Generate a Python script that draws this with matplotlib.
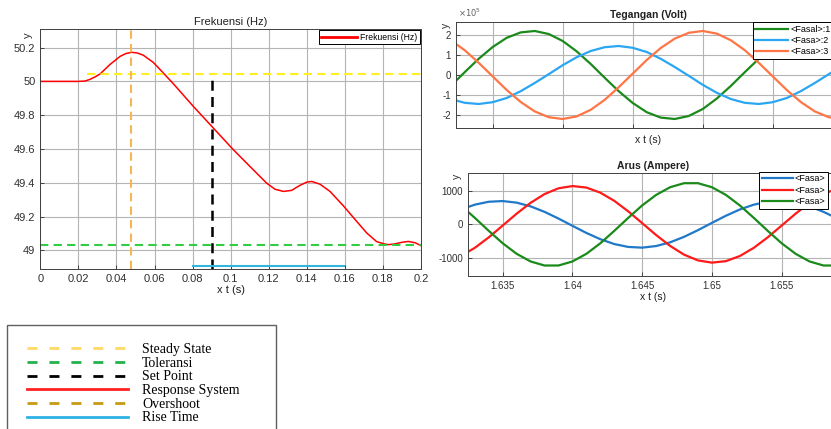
import matplotlib
matplotlib.use("Agg")
import matplotlib.pyplot as plt
from matplotlib.lines import Line2D
from matplotlib.patches import Rectangle
from matplotlib.ticker import FormatStrFormatter

plt.rcParams['font.family'] = ['Liberation Sans', 'DejaVu Sans']
plt.rcParams['axes.unicode_minus'] = False

# ---- data ----
# Frekuensi (Hz)
t_frek = [0, 0.010, 0.020, 0.0235, 0.0261, 0.0290, 0.0314, 0.0366, 0.0419, 0.0450, 0.0480,
          0.0510, 0.0541, 0.0594, 0.0646, 0.0699, 0.0804, 0.0909, 0.1014, 0.1119, 0.1189,
          0.1233, 0.1277, 0.1320, 0.1364, 0.1400, 0.1426, 0.1469, 0.1522, 0.1592, 0.1662,
          0.1715, 0.1767, 0.1802, 0.1827, 0.1860, 0.1900, 0.1933, 0.1970, 0.2]
frek = [50.0, 50.0, 50.0, 50.002, 50.012, 50.028, 50.044, 50.100, 50.148, 50.165, 50.172,
        50.168, 50.155, 50.112, 50.050, 49.986, 49.852, 49.724, 49.596, 49.477, 49.398,
        49.362, 49.349, 49.355, 49.385, 49.404, 49.408, 49.392, 49.349, 49.264, 49.172,
        49.103, 49.052, 49.040, 49.034, 49.038, 49.048, 49.053, 49.045, 49.028]
steady_state = 50.041
steady_start = 0.0243
toleransi = 49.033
overshoot_t = 0.0476
setpoint_t = 0.0904
setpoint_top = 50.03
rise_y = 48.907
rise_t = [0.0795, 0.160]

# Tegangan (Volt), x 1e5
t_v = [0.002, 0.003, 0.004, 0.005, 0.006, 0.007, 0.008, 0.009, 0.010, 0.011, 0.012, 0.013,
       0.014, 0.015, 0.016, 0.017, 0.018, 0.019, 0.020, 0.021, 0.022, 0.023, 0.024, 0.025,
       0.026, 0.027, 0.028, 0.029, 0.030]
v_fasa1 = [-0.55, 0.14, 0.81, 1.40, 1.86, 2.13, 2.20, 2.05, 1.70, 1.18, 0.55, -0.14, -0.81,
           -1.40, -1.86, -2.13, -2.20, -2.05, -1.70, -1.18, -0.55, 0.14, 0.81, 1.40, 1.86,
           2.13, 2.20, 2.05, 1.70]
v_fasa2 = [-1.20, -1.39, -1.45, -1.36, -1.15, -0.81, -0.40, 0.04, 0.49, 0.89, 1.20, 1.39,
           1.45, 1.36, 1.15, 0.81, 0.40, -0.04, -0.49, -0.89, -1.20, -1.39, -1.45, -1.36,
           -1.15, -0.81, -0.40, 0.04, 0.49]
v_fasa3 = [1.74, 1.24, 0.61, -0.07, -0.75, -1.35, -1.82, -2.11, -2.20, -2.07, -1.74, -1.24,
           -0.61, 0.07, 0.75, 1.35, 1.82, 2.11, 2.20, 2.07, 1.74, 1.24, 0.61, -0.07, -0.75,
           -1.35, -1.82, -2.11, -2.20]

# Arus (Ampere)
t_i = [1.632, 1.633, 1.634, 1.635, 1.636, 1.637, 1.638, 1.639, 1.640, 1.641, 1.642, 1.643,
       1.644, 1.645, 1.646, 1.647, 1.648, 1.649, 1.650, 1.651, 1.652, 1.653, 1.654, 1.655,
       1.656, 1.657, 1.658, 1.659, 1.660]
i_fasa1 = [446, 591, 678, 699, 651, 540, 375, 174, -44, -258, -446, -591, -678, -699, -651,
           -540, -375, -174, 44, 258, 446, 591, 678, 699, 651, 540, 375, 174, -44]
i_fasa2 = [-951, -705, -390, -36, 321, 646, 909, 1082, 1149, 1104, 951, 705, 390, 36, -321,
           -646, -909, -1082, -1149, -1104, -951, -705, -390, -36, 321, 646, 909, 1082, 1149]
i_fasa3 = [568, 195, -195, -568, -884, -1114, -1235, -1235, -1114, -884, -568, -195, 195,
           568, 884, 1114, 1235, 1235, 1114, 884, 568, 195, -195, -568, -884, -1114, -1235,
           -1235, -1114]

W, H = 831, 429
fig = plt.figure(figsize=(W / 100, H / 100), dpi=100)


def box(l, t, r, b):
    return [l / W, 1 - b / H, (r - l) / W, (b - t) / H]


def style(ax, fs):
    ax.grid(True, color='#b4b4b4', lw=0.8)
    ax.set_axisbelow(True)
    ax.tick_params(direction='in', length=3, labelsize=fs, colors='#303030', width=0.6)
    for s in ax.spines.values():
        s.set_color('#404040')
        s.set_linewidth(0.7)


def frame(leg):
    leg.get_frame().set_edgecolor('black')
    leg.get_frame().set_linewidth(0.7)


# ---- Frekuensi ----
ax1 = fig.add_axes(box(40.3, 29, 421, 269))
ax1.plot(t_frek, frek, color='red', lw=1.1, label='Frekuensi (Hz)')
ax1.hlines(steady_state, steady_start, 0.2, colors='#ffee22', linestyles=(0, (4, 2.5)), lw=1.5)
ax1.hlines(toleransi, 0, 0.2, colors='#33cc44', linestyles=(0, (4, 2.5)), lw=1.5)
ax1.axvline(overshoot_t, color='#f5b656', ls=(0, (4, 2.5)), lw=1.5)
ax1.vlines(setpoint_t, 48.89, setpoint_top, colors='black', linestyles=(0, (4, 2.5)), lw=1.8)
ax1.hlines(rise_y, rise_t[0], rise_t[1], colors='#34b6dc', lw=1.5)
ax1.set_xlim(0, 0.2)
ax1.set_ylim(48.89, 50.31)
ax1.set_xticks([0, 0.02, 0.04, 0.06, 0.08, 0.1, 0.12, 0.14, 0.16, 0.18, 0.2])
ax1.set_yticks([49, 49.2, 49.4, 49.6, 49.8, 50, 50.2])
ax1.xaxis.set_major_formatter(FormatStrFormatter('%g'))
ax1.yaxis.set_major_formatter(FormatStrFormatter('%g'))
style(ax1, 8)
ax1.set_title('Frekuensi (Hz)', fontsize=8, pad=3, color='#202020')
ax1.set_xlabel('x t (s)', fontsize=8, labelpad=1, color='#202020')
ax1.text(-0.032, 0.985, 'y', transform=ax1.transAxes, rotation=90, fontsize=8,
         ha='center', va='top', color='#303030')
leg = ax1.legend(loc='upper right', fontsize=6.2, handlelength=4.2, handletextpad=0.3,
                 borderaxespad=0.15, borderpad=0.3, fancybox=False, framealpha=1)
frame(leg)
leg.get_lines()[0].set_linewidth(2)

# ---- Tegangan ----
ax2 = fig.add_axes(box(456, 22, 840, 128))
ax2.plot(t_v, v_fasa1, color='#1b8a1b', lw=1.6, label='<Fasal>:1')
ax2.plot(t_v, v_fasa2, color='#2ba6f2', lw=1.6, label='<Fasa>:2')
ax2.plot(t_v, v_fasa3, color='#ff7545', lw=1.6, label='<Fasa>:3')
ax2.set_xlim(0.00238, 0.0298)
ax2.set_ylim(-2.65, 2.65)
ax2.set_xticks([0.005, 0.010, 0.015, 0.020, 0.025])
ax2.set_xticklabels([])
ax2.set_yticks([-2, -1, 0, 1, 2])
style(ax2, 7)
ax2.set_title('Tegangan (Volt)', fontsize=7.5, fontweight='bold', pad=3, color='#202020')
ax2.set_xlabel('x t (s)', fontsize=7.5, labelpad=1.5, color='#202020')
ax2.text(0.004, 1.03, r'$\times10^5$', transform=ax2.transAxes, fontsize=6,
         ha='left', va='bottom', color='#606060')
ax2.text(-0.025, 0.99, 'y', transform=ax2.transAxes, rotation=90, fontsize=7.5,
         ha='center', va='top', color='#303030')
leg2 = ax2.legend(loc='upper left', bbox_to_anchor=(752.7 / W, 1 - 22 / H),
                  bbox_transform=fig.transFigure, fontsize=6.5, handlelength=3.6,
                  handletextpad=0.25, labelspacing=0.25, borderpad=0.3, borderaxespad=0,
                  fancybox=False, framealpha=1)
frame(leg2)

# ---- Arus ----
ax3 = fig.add_axes(box(467.7, 172.7, 839, 276))
ax3.plot(t_i, i_fasa1, color='#1f78c8', lw=1.6, label='<Fasa>')
ax3.plot(t_i, i_fasa2, color='#ff1a1a', lw=1.6, label='<Fasa>')
ax3.plot(t_i, i_fasa3, color='#1a8a1a', lw=1.6, label='<Fasa>')
ax3.set_xlim(1.63249, 1.65911)
ax3.set_ylim(-1550, 1550)
ax3.set_xticks([1.635, 1.64, 1.645, 1.65, 1.655])
ax3.set_yticks([-1000, 0, 1000])
ax3.xaxis.set_major_formatter(FormatStrFormatter('%g'))
style(ax3, 7)
ax3.set_title('Arus (Ampere)', fontsize=7.5, fontweight='bold', pad=3, color='#202020')
ax3.set_xlabel('x t (s)', fontsize=7.5, labelpad=1, color='#202020')
ax3.text(-0.03, 0.985, 'y', transform=ax3.transAxes, rotation=90, fontsize=7.5,
         ha='center', va='top', color='#303030')
leg3 = ax3.legend(loc='upper left', bbox_to_anchor=(759.3 / W, 1 - 171.7 / H),
                  bbox_transform=fig.transFigure, fontsize=6.5, handlelength=3.4,
                  handletextpad=0.25, labelspacing=0.25, borderpad=0.3, borderaxespad=0,
                  fancybox=False, framealpha=1)
frame(leg3)

# ---- keterangan (bottom-left legend box) ----
fig.patches.append(Rectangle((7 / W, -0.05), 269 / W, 0.05 + 1 - 325 / H,
                             transform=fig.transFigure, fill=False, edgecolor='#606060',
                             lw=1))
dash = (0, (3.6, 4.3))
handles = [
    Line2D([], [], color='#ffd966', lw=2, ls=dash),
    Line2D([], [], color='#22b14c', lw=2, ls=dash),
    Line2D([], [], color='black', lw=2, ls=dash),
    Line2D([], [], color='#ff2020', lw=2),
    Line2D([], [], color='#c89a10', lw=2, ls=dash),
    Line2D([], [], color='#2fb2e6', lw=2),
]
labels = ['Steady State', 'Toleransi', 'Set Point', 'Response System', 'Overshoot', 'Rise Time']
fig.legend(handles, labels, loc='upper left', bbox_to_anchor=(27 / W, 1 - 343 / H),
           frameon=False, prop={'family': 'Liberation Serif', 'size': 10},
           handlelength=7.3, handletextpad=1.0, labelspacing=0.05, borderpad=0,
           borderaxespad=0)

fig.savefig('out.png', dpi=100)
